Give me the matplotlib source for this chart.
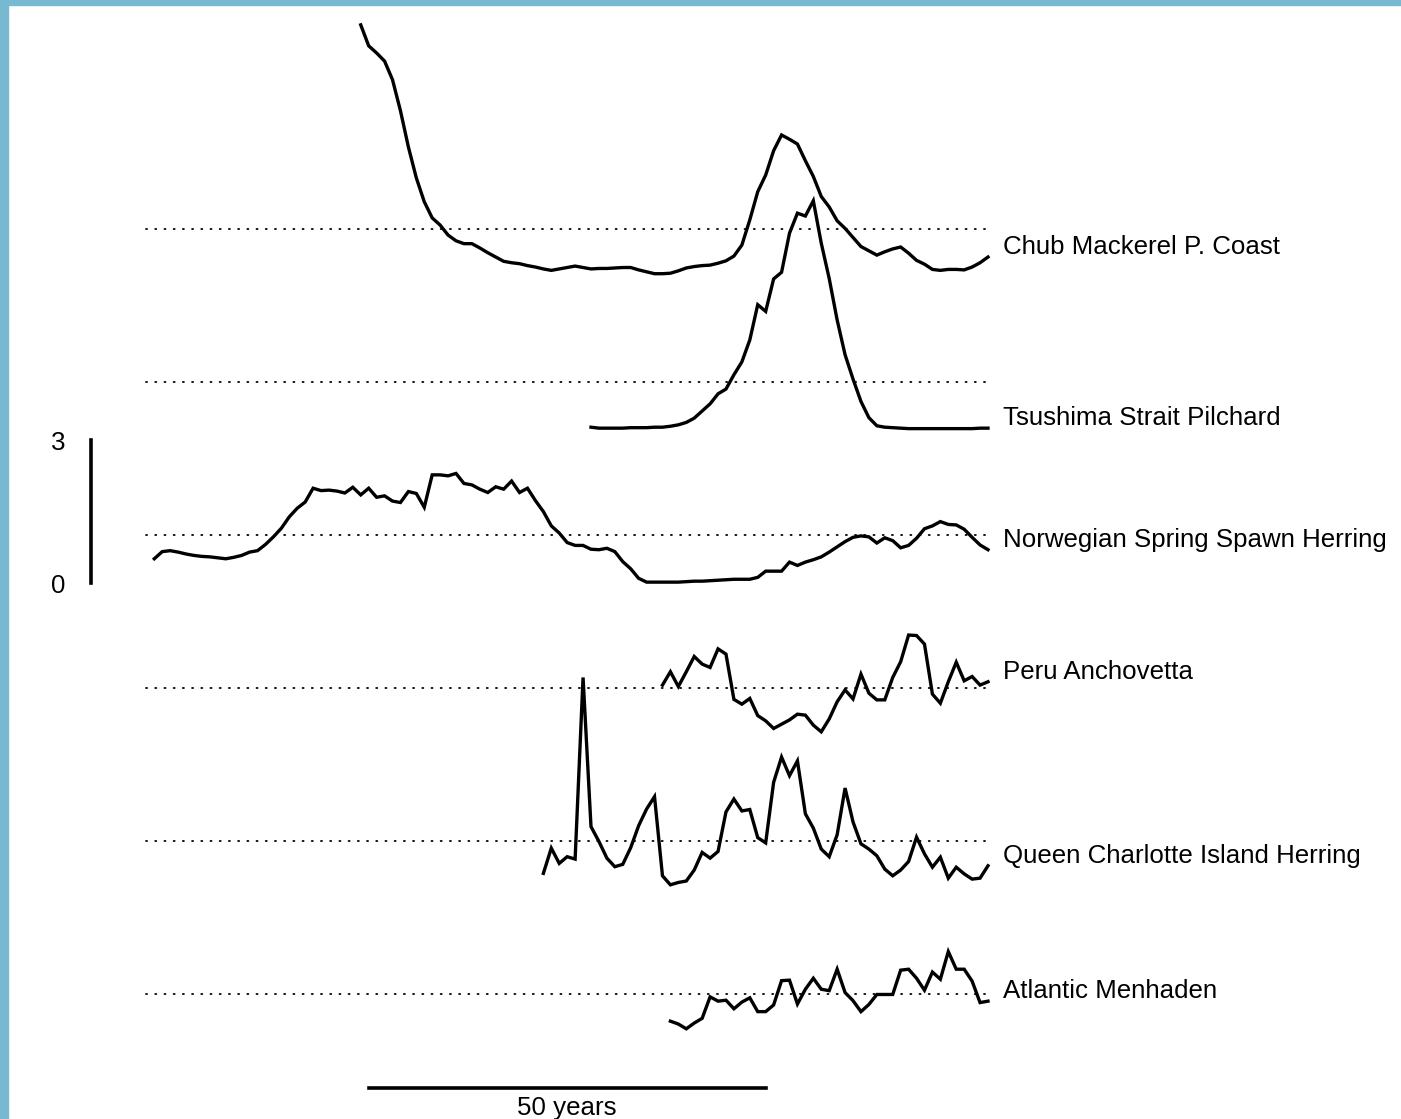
import matplotlib.pyplot as plt
from matplotlib.patches import Rectangle
import numpy as np

plt.rcParams['font.family'] = ['Liberation Sans', 'DejaVu Sans']

# biomass relative to the series mean (dotted line = 1), one value per year
chub_start = 1931
chub = [5.28, 4.84, 4.69, 4.52, 4.13, 3.48, 2.72, 2.07, 1.57, 1.23,
        1.08, 0.87, 0.75, 0.69, 0.69, 0.60, 0.50, 0.41, 0.32, 0.29,
        0.27, 0.23, 0.20, 0.16, 0.13, 0.16, 0.19, 0.22, 0.19, 0.16,
        0.17, 0.17, 0.18, 0.19, 0.19, 0.14, 0.10, 0.06, 0.06, 0.07,
        0.12, 0.18, 0.21, 0.23, 0.24, 0.28, 0.33, 0.43, 0.66, 1.19,
        1.78, 2.13, 2.64, 2.97, 2.88, 2.78, 2.43, 2.10, 1.68, 1.46,
        1.17, 1.01, 0.82, 0.63, 0.54, 0.45, 0.52, 0.58, 0.62, 0.49,
        0.34, 0.26, 0.15, 0.13, 0.15, 0.15, 0.14, 0.20, 0.29, 0.41]

pilchard_start = 1960
pilchard = [0.05, 0.03, 0.03, 0.03, 0.03, 0.04, 0.04, 0.04, 0.05, 0.05,
            0.07, 0.10, 0.15, 0.24, 0.39, 0.54, 0.75, 0.85, 1.15, 1.42,
            1.88, 2.62, 2.48, 3.16, 3.30, 4.12, 4.54, 4.48, 4.80, 3.91,
            3.17, 2.30, 1.57, 1.06, 0.59, 0.25, 0.08, 0.05, 0.04, 0.03,
            0.02, 0.02, 0.02, 0.02, 0.02, 0.02, 0.02, 0.02, 0.02, 0.03,
            0.03]

herring_nor_start = 1905
herring_nor = [0.50, 0.65, 0.67, 0.64, 0.60, 0.57, 0.55, 0.54, 0.52, 0.50,
               0.53, 0.57, 0.64, 0.67, 0.80, 0.96, 1.14, 1.38, 1.56, 1.69,
               1.98, 1.93, 1.94, 1.92, 1.88, 2.00, 1.84, 1.98, 1.79, 1.82,
               1.71, 1.68, 1.91, 1.87, 1.58, 2.26, 2.26, 2.24, 2.29, 2.08,
               2.05, 1.96, 1.89, 2.01, 1.96, 2.13, 1.89, 1.98, 1.72, 1.49,
               1.19, 1.04, 0.84, 0.78, 0.78, 0.70, 0.69, 0.72, 0.65, 0.44,
               0.29, 0.09, 0.01, 0.01, 0.01, 0.01, 0.01, 0.02, 0.03, 0.03,
               0.04, 0.05, 0.06, 0.07, 0.07, 0.07, 0.11, 0.24, 0.24, 0.24,
               0.43, 0.36, 0.43, 0.48, 0.54, 0.64, 0.75, 0.86, 0.95, 0.98,
               0.96, 0.83, 0.94, 0.88, 0.73, 0.78, 0.93, 1.13, 1.19, 1.28,
               1.22, 1.21, 1.12, 0.95, 0.79, 0.69]

anchovetta_start = 1969
anchovetta = [1.06, 1.34, 1.03, 1.34, 1.66, 1.50, 1.43, 1.82, 1.71, 0.76,
              0.66, 0.78, 0.42, 0.31, 0.15, 0.24, 0.33, 0.45, 0.43, 0.22,
              0.08, 0.35, 0.71, 0.96, 0.77, 1.29, 0.89, 0.75, 0.75, 1.22,
              1.55, 2.11, 2.10, 1.92, 0.87, 0.68, 1.13, 1.54, 1.15, 1.24,
              1.06, 1.13]

herring_qci_start = 1954
herring_qci = [0.32, 0.85, 0.53, 0.67, 0.62, 4.43, 1.30, 0.99, 0.64, 0.46,
               0.51, 0.86, 1.32, 1.67, 1.93, 0.27, 0.08, 0.13, 0.16, 0.39,
               0.76, 0.64, 0.78, 1.61, 1.88, 1.63, 1.66, 1.07, 0.96, 2.23,
               2.76, 2.37, 2.68, 1.57, 1.27, 0.83, 0.67, 1.13, 2.11, 1.40,
               0.94, 0.83, 0.69, 0.41, 0.27, 0.39, 0.57, 1.08, 0.73, 0.45,
               0.66, 0.22, 0.45, 0.31, 0.20, 0.22, 0.48]

menhaden_start = 1970
menhaden = [0.43, 0.37, 0.27, 0.39, 0.49, 0.94, 0.85, 0.87, 0.69, 0.83,
            0.92, 0.63, 0.63, 0.77, 1.28, 1.29, 0.79, 1.10, 1.33, 1.10,
            1.07, 1.52, 1.03, 0.86, 0.63, 0.78, 0.99, 0.99, 0.99, 1.50,
            1.52, 1.33, 1.08, 1.46, 1.31, 1.89, 1.52, 1.52, 1.27, 0.82,
            0.85]

# top to bottom
names = ["Chub Mackerel P. Coast", "Tsushima Strait Pilchard",
         "Norwegian Spring Spawn Herring", "Peru Anchovetta",
         "Queen Charlotte Island Herring", "Atlantic Menhaden"]
series = [chub, pilchard, herring_nor, anchovetta, herring_qci, menhaden]
starts = [chub_start, pilchard_start, herring_nor_start, anchovetta_start,
          herring_qci_start, menhaden_start]

spacing = 3.21
last_year = 2010
px_per_year = 7.94
px_per_unit = 47.67
fs = 18.6

fig = plt.figure(figsize=(14.01, 11.19), dpi=100)
ax = fig.add_axes([0, 0, 1, 1])
ax.axis('off')

for i, (name, vals, start) in enumerate(zip(names, series, starts)):
    offset = (len(names) - 1 - i) * spacing
    yrs = np.arange(start, start + len(vals))
    ax.plot([1904, last_year], [offset + 1, offset + 1], color='black',
            lw=1.3, ls=(0, (0.6, 4.5)), dash_capstyle='round')
    ax.plot(yrs, offset + np.array(vals), color='black', lw=2.4,
            solid_joinstyle='miter')
    ax.annotate(name, (yrs[-1], offset + vals[-1]), xytext=(11, 7.3),
                textcoords='offset points', va='center', ha='left',
                fontsize=fs)

# vertical scale bar (0 to 3) on the Norwegian herring axis
nor_offset = 3 * spacing
ax.plot([1897, 1897], [nor_offset, nor_offset + 3], color='black', lw=2.6)
ax.text(1892.9, nor_offset + 3 - 0.07, "3", ha='center', va='center',
        fontsize=fs)
ax.text(1892.9, nor_offset - 0.07, "0", ha='center', va='center', fontsize=fs)

# horizontal scale bar, 50 years
ax.plot([1932, 1982], [-0.973, -0.973], color='black', lw=2.6)
ax.text(1957, -1.40, "50 years", ha='center', va='center', fontsize=fs)

ax.set_xlim(last_year - 988 / px_per_year, last_year + 413 / px_per_year)
ax.set_ylim(-77.33 / px_per_unit, 1041.67 / px_per_unit)

# light blue frame on the left and top edges
fig.patches.append(Rectangle((0, 0), 8 / 1401, 1, transform=fig.transFigure,
                             color='#76b9d1', zorder=10))
fig.patches.append(Rectangle((0, 1 - 4.5 / 1119), 1, 4.5 / 1119,
                             transform=fig.transFigure, color='#76b9d1',
                             zorder=10))

fig.savefig("out.png", dpi=100)
